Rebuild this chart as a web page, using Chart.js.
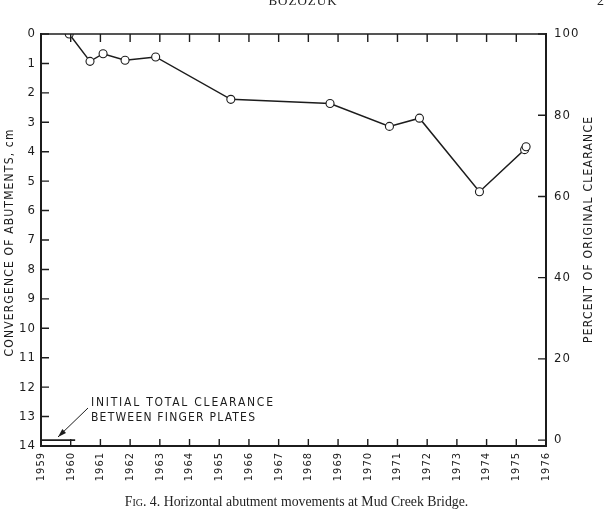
<!DOCTYPE html>
<html>
<head>
<meta charset="utf-8">
<script src="https://cdn.jsdelivr.net/npm/chart.js@4.4.1/dist/chart.umd.min.js"></script>
<style>
  body { margin: 0; background: #fff; }
  #wrap { position: relative; width: 606px; height: 517px; overflow: hidden; }
  #head { position: absolute; top: -7px; left: 0; width: 606px; text-align: center;
          font: 13px "Liberation Serif", serif; letter-spacing: 1px; color: #222; }
  #pg { position: absolute; top: -7px; left: 597px; font: 14px "Liberation Serif", serif; color: #222; }
  #cap { position: absolute; top: 494px; left: 124px; width: 345px; text-align: center;
         font: 13.8px "Liberation Serif", serif; color: #222; white-space: nowrap; }
  .sc { font-variant: small-caps; }
</style>
</head>
<body>
<div id="wrap">
  <div id="head">BOZOZUK</div>
  <div id="pg">2</div>
  <canvas id="c" width="606" height="517"></canvas>
  <div id="cap">F<span class="sc">ig</span>. 4. Horizontal abutment movements at Mud Creek Bridge.</div>
</div>
<script>
// survey readings
var years = [1959.95, 1960.65, 1961.09, 1961.83, 1962.86, 1965.39, 1968.73, 1970.73, 1971.74, 1973.76, 1975.28, 1975.33];
var convergence = [0, 0.93, 0.67, 0.89, 0.78, 2.22, 2.36, 3.14, 2.86, 5.36, 3.93, 3.83];
// initial clearance between finger plates (cm)
var fullClearance = 13.8;
var clearanceYears = [1959, 1960.15];
var percentTicks = [0, 20, 40, 60, 80, 100];
var yearTicks = [];
for (var y = 1959; y <= 1976; y++) yearTicks.push(y);

var ink = "#1c1c1c";
var tickFont = "'Liberation Sans Narrow', 'DejaVu Sans Condensed', sans-serif";

function spaced(ctx, text, x, y, width, rot, align) {
  ctx.save();
  ctx.translate(x, y);
  ctx.rotate(rot);
  var w0 = ctx.measureText(text).width;
  var sp = (width - w0) / (text.length - 1);
  ctx.letterSpacing = sp + "px";
  ctx.textAlign = align || "center";
  ctx.textBaseline = "middle";
  ctx.fillText(text, align === "left" ? 0 : sp / 2, 0);
  ctx.restore();
}

var frame = {
  id: "frame",
  beforeDraw: function (chart) {
    chart.ctx.letterSpacing = "1px";
  },
  afterDraw: function (chart) {
    var ctx = chart.ctx, a = chart.chartArea;
    var sx = chart.scales.x, sy = chart.scales.y, s2 = chart.scales.y2;
    ctx.save();
    ctx.letterSpacing = "0px";
    ctx.strokeStyle = ink;
    ctx.lineWidth = 1.6;
    ctx.beginPath();
    ctx.moveTo(a.left, a.top); ctx.lineTo(a.right, a.top);
    ctx.stroke();
    ctx.lineWidth = 1.4;
    ctx.beginPath();
    yearTicks.forEach(function (v) {
      var px = sx.getPixelForValue(v);
      ctx.moveTo(px, a.bottom); ctx.lineTo(px, a.bottom - 7);
      ctx.moveTo(px, a.top); ctx.lineTo(px, a.top + 8);
    });
    for (var i = 0; i <= 14; i++) {
      var py = sy.getPixelForValue(i);
      ctx.moveTo(a.left, py); ctx.lineTo(a.left + 8, py);
    }
    percentTicks.forEach(function (v) {
      var py = s2.getPixelForValue(v);
      ctx.moveTo(a.right, py); ctx.lineTo(a.right - 8, py);
    });
    ctx.stroke();

    // arrow to clearance line
    var x0 = 88, y0 = 408, x1 = 58, y1 = 437;
    ctx.lineWidth = 1;
    ctx.beginPath(); ctx.moveTo(x0, y0); ctx.lineTo(x1, y1); ctx.stroke();
    var ang = Math.atan2(y1 - y0, x1 - x0);
    ctx.fillStyle = ink;
    ctx.beginPath();
    ctx.moveTo(x1, y1);
    ctx.lineTo(x1 - 9 * Math.cos(ang - 0.3), y1 - 9 * Math.sin(ang - 0.3));
    ctx.lineTo(x1 - 9 * Math.cos(ang + 0.3), y1 - 9 * Math.sin(ang + 0.3));
    ctx.closePath(); ctx.fill();

    ctx.font = "12px " + tickFont;
    spaced(ctx, "INITIAL TOTAL CLEARANCE", 91, 403, 182, 0, "left");
    spaced(ctx, "BETWEEN FINGER PLATES", 91, 418, 164, 0, "left");

    ctx.font = "12px " + tickFont;
    spaced(ctx, "CONVERGENCE OF ABUTMENTS, cm", 10, 243, 227, -Math.PI / 2);
    spaced(ctx, "PERCENT OF ORIGINAL CLEARANCE", 589, 230, 226, -Math.PI / 2);
    ctx.restore();
  }
};

var pts = years.map(function (x, i) { return { x: x, y: convergence[i] }; });
var clearancePts = clearanceYears.map(function (x) { return { x: x, y: fullClearance }; });

new Chart(document.getElementById("c"), {
  type: "scatter",
  data: {
    datasets: [
      {
        label: "convergence",
        data: pts,
        showLine: true,
        borderColor: ink,
        borderWidth: 1.5,
        pointRadius: 4,
        pointBackgroundColor: "#fff",
        pointBorderColor: ink,
        pointBorderWidth: 1.1
      },
      {
        label: "clearance",
        data: clearancePts,
        showLine: true,
        borderColor: ink,
        borderWidth: 1.8,
        pointRadius: 0
      }
    ]
  },
  options: {
    responsive: false,
    animation: false,
    layout: { padding: { top: 34, left: 0, right: 0, bottom: 0 } },
    plugins: { legend: { display: false }, tooltip: { enabled: false } },
    scales: {
      x: {
        type: "linear", position: "bottom", min: 1959, max: 1976,
        afterBuildTicks: function (s) { s.ticks = yearTicks.map(function (v) { return { value: v }; }); },
        afterFit: function (s) { s.height = 71; },
        grid: { drawOnChartArea: false, drawTicks: false },
        border: { color: ink, width: 2 },
        ticks: {
          padding: 6, maxRotation: 90, minRotation: 90, color: ink,
          font: { family: tickFont, size: 11 },
          callback: function (v) { return String(v); }
        }
      },
      y: {
        type: "linear", position: "left", min: 0, max: 14, reverse: true,
        afterFit: function (s) { s.width = 41; },
        grid: { drawOnChartArea: false, drawTicks: false },
        border: { color: ink, width: 2 },
        ticks: { stepSize: 1, padding: 5, color: ink, font: { family: tickFont, size: 13 } }
      },
      y2: {
        type: "linear", position: "right",
        min: 100 * (1 - 14 / fullClearance), max: 100,
        afterBuildTicks: function (s) { s.ticks = percentTicks.map(function (v) { return { value: v }; }); },
        afterFit: function (s) { s.width = 60; },
        grid: { drawOnChartArea: false, drawTicks: false },
        border: { color: ink, width: 2 },
        ticks: { padding: 8, color: ink, font: { family: tickFont, size: 13 } }
      }
    }
  },
  plugins: [frame]
});
</script>
</body>
</html>
